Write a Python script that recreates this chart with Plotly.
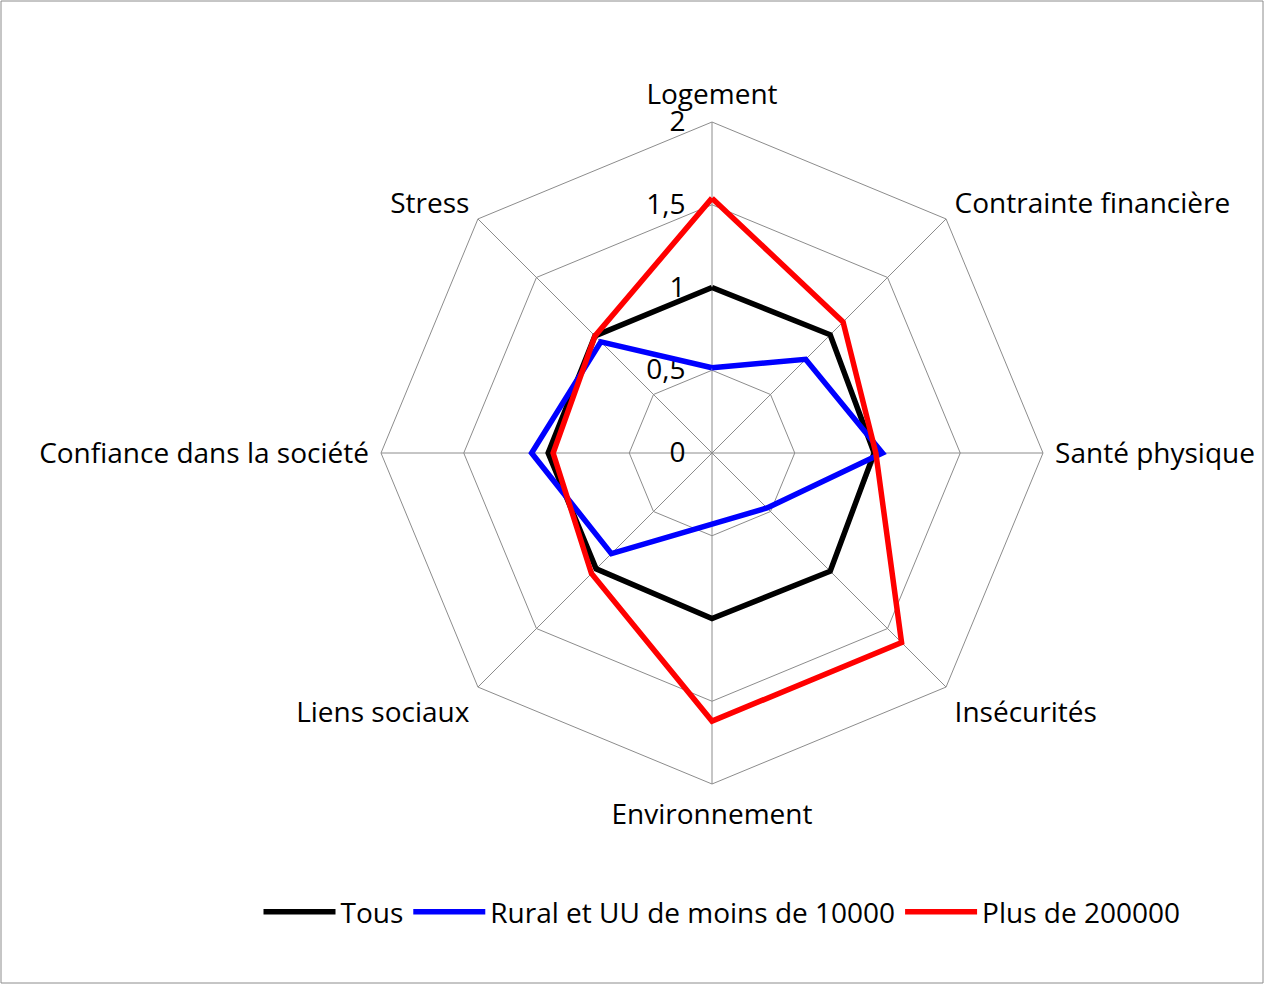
import plotly.graph_objects as go

categories = ["Logement", "Contrainte financière", "Santé physique", "Insécurités",
              "Environnement", "Liens sociaux", "Confiance dans la société", "Stress"]
tous = [1.0, 1.01, 0.98, 1.01, 1.0, 0.99, 0.99, 1.0]
rural = [0.515, 0.80, 1.03, 0.47, 0.43, 0.86, 1.09, 0.95]
grandes = [1.54, 1.12, 0.99, 1.62, 1.62, 1.03, 0.96, 1.0]
series_names = ["Tous", "Rural et UU de moins de 10000", "Plus de 200000"]
series_colors = ["#000000", "#0000FF", "#FF0000"]
radial_ticks = [0, 0.5, 1, 1.5, 2]
radial_labels = ["0", "0,5", "1", "1,5", "2"]

W, H = 1265, 985
FONT = "Open Sans"
FS = 28
PAD = "\u00a0\u00a0\u00a0"

fig = go.Figure()
for name, vals, col in zip(series_names, [tous, rural, grandes], series_colors):
    fig.add_trace(go.Scatterpolar(
        r=vals + [vals[0]], theta=categories + [categories[0]],
        mode="lines", name=name,
        line=dict(color=col, width=5.5),
    ))

cx, cy, R = 712, 453, 331
fig.update_layout(
    width=W, height=H,
    margin=dict(l=0, r=0, t=0, b=0),
    paper_bgcolor="white", plot_bgcolor="white",
    separators=", ",
    font=dict(family=FONT, size=FS, color="black"),
    polar=dict(
        domain=dict(x=[(cx - R) / W, (cx + R) / W], y=[1 - (cy + R) / H, 1 - (cy - R) / H]),
        gridshape="linear",
        bgcolor="white",
        radialaxis=dict(
            range=[0, 2], tickvals=radial_ticks,
            ticktext=[t + PAD for t in radial_labels],
            ticks="", showline=False,
            angle=90, tickangle=90, side="counterclockwise",
            gridcolor="#8c8c8c", gridwidth=1, layer="below traces",
            tickfont=dict(family=FONT, size=FS, color="black"),
        ),
        angularaxis=dict(
            direction="clockwise", rotation=90,
            ticks="outside", ticklen=6, tickcolor="rgba(0,0,0,0)",
            showline=True, linecolor="#8c8c8c", linewidth=1,
            gridcolor="#8c8c8c", gridwidth=1, layer="below traces",
            tickfont=dict(family=FONT, size=FS, color="black"),
        ),
    ),
    showlegend=True,
    legend=dict(orientation="h", x=722 / W, xanchor="center", y=1 - 912 / H, yanchor="middle",
                itemwidth=72,
                font=dict(family=FONT, size=FS, color="black")),
    shapes=[dict(type="rect", xref="paper", yref="paper",
                 x0=1 / W, x1=1263 / W, y0=1 - 983 / H, y1=1 - 1 / H,
                 line=dict(color="#8c8c8c", width=1))],
)

fig.write_html("out.html", config={"displayModeBar": False},
               post_script="document.body.style.margin='0';")
